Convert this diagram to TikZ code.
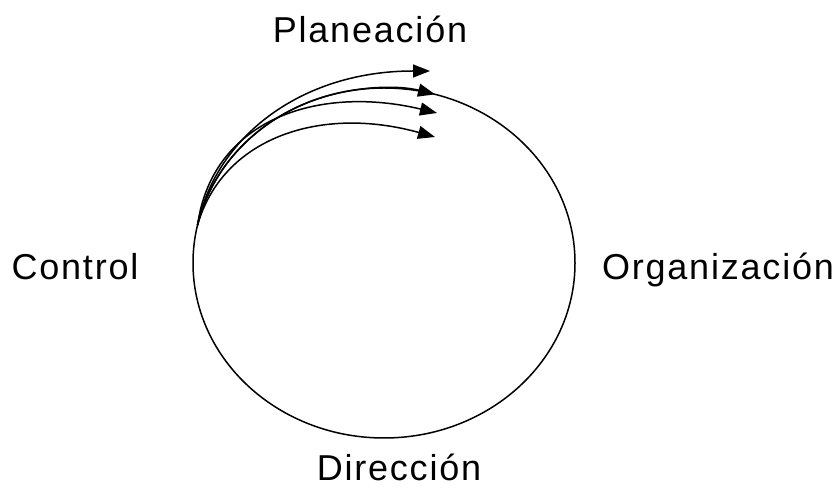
\documentclass[tikz,border=0pt]{standalone}
\usepackage{fontspec}
\setmainfont[LetterSpace=5]{Liberation Sans}
\usepackage{tikz}
\usetikzlibrary{arrows.meta,positioning,calc,shapes.geometric}

\begin{document}
\begin{tikzpicture}[x=1pt, y=1pt,
    lbl/.style={font=\fontsize{36}{40}\selectfont, inner sep=0pt, anchor=base},
    arr/.style={line width=1.5pt, -{Triangle[length=17pt, width=13pt]}}]
      \useasboundingbox (0,0) rectangle (835,489);
      % The cycle
      \node[ellipse, draw, line width=1.5pt, minimum width=382pt, minimum height=350pt,
            inner sep=0pt] (cycle) at (384,226) {};
      % Stages
      \node[lbl] (plan) at (370,446) {Planeación};
      \node[lbl] (org) at (718,209) {Organización};
      \node[lbl] (dir) at (399,8) {Dirección};
      \node[lbl] (ctrl) at (75,209) {Control};
      % Feedback arrows out of control
      \coordinate (s) at ($(cycle.center)+(167.5:191 and 175)$);
      \coordinate (t1) at (430,418);
      \coordinate (t3) at (437,376);
      \coordinate (t4) at (435,352);
      \draw[arr] (s) .. controls +(18,87) and +(-130,0) .. (t1);
      \draw[arr] (s) arc[start angle=167.5, end angle=74.5, x radius=191, y radius=175];
      \draw[arr] (s) .. controls +(15,107) and +(-117,28) .. (t3);
      \draw[arr] (s) .. controls +(25,87) and +(-115,32) .. (t4);
    \end{tikzpicture}
\end{document}
